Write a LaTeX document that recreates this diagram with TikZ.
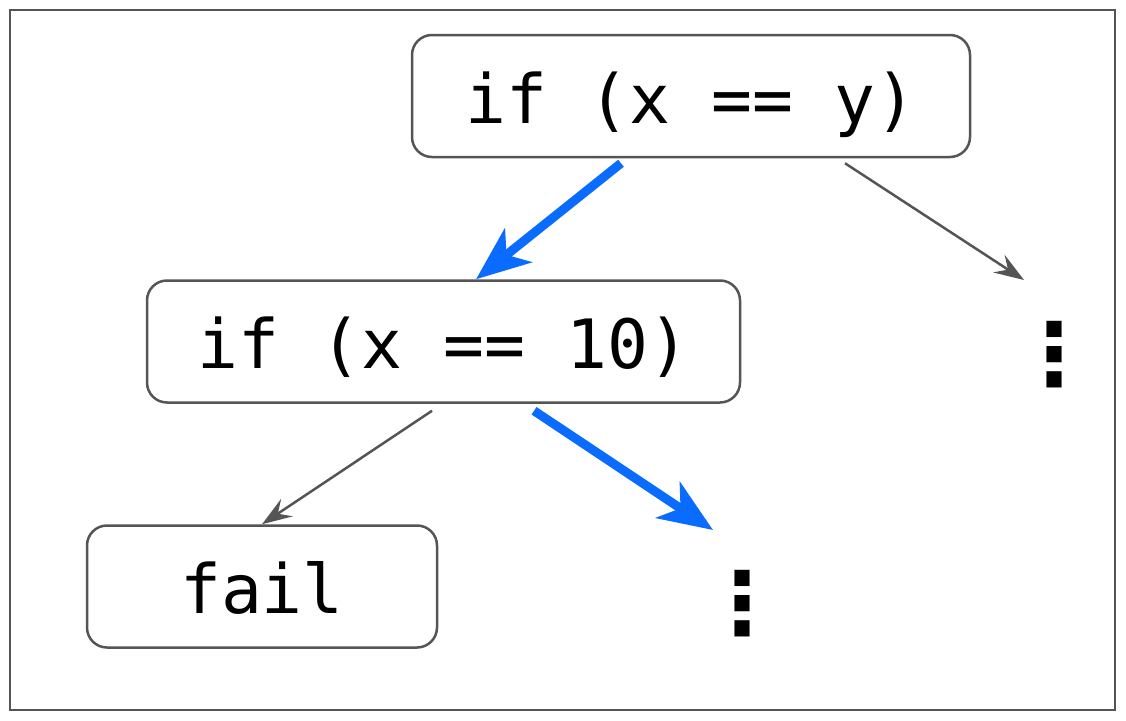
\documentclass[tikz,border=0pt]{standalone}
\usepackage{fontspec}
\newfontfamily\codefont{DejaVu Sans Mono}
\newfontfamily\symfont{DejaVu Sans}
\usetikzlibrary{arrows.meta}
\definecolor{frame}{HTML}{555555}
\definecolor{hot}{HTML}{0A6CFF}
\tikzset{
  codebox/.style={draw=frame, line width=2.5pt, rounded corners=20pt, inner sep=0pt,
    minimum height=122pt, text height=54pt, text depth=0pt,
    font=\codefont\fontsize{68}{68}\selectfont},
  vdots/.style={inner sep=0pt, font=\symfont\bfseries\fontsize{86}{86}\selectfont},
  coldedge/.style={draw=frame, line width=2.5pt, -{Stealth[length=30pt,width=21pt,inset=11pt]}},
  hotedge/.style={draw=hot, line width=9pt, -{Stealth[length=54pt,width=43pt,inset=15pt]}},
}
\begin{document}
\begin{tikzpicture}[x=1pt,y=-1pt]
\useasboundingbox (0,0) rectangle (1126,720);
\draw[frame, line width=2.5pt] (10,10) rectangle (1115,710);
\node[codebox, minimum width=558pt] (a) at (691,96) {if (x == y)};
\node[codebox, minimum width=593pt] (b) at (443.5,341.5) {if (x == 10)};
\node[codebox, minimum width=350pt] (c) at (262,586.5) {fail};
\node[vdots] (d1) at (1054,355) {⋮};
\node[vdots] (d2) at (742,604) {⋮};
\draw[hotedge] ([xshift=-70pt,yshift=-5pt]a.south) -- ([xshift=32.5pt]b.north);
\draw[coldedge] ([xshift=154pt,yshift=-5pt]a.south) -- ([xshift=-30pt,yshift=75pt]d1.center);
\draw[coldedge] ([xshift=-11.5pt,yshift=-7pt]b.south) -- (c.north);
\draw[hotedge] ([xshift=90.5pt,yshift=-7pt]b.south) -- ([xshift=-29pt,yshift=74pt]d2.center);
\end{tikzpicture}
\end{document}
